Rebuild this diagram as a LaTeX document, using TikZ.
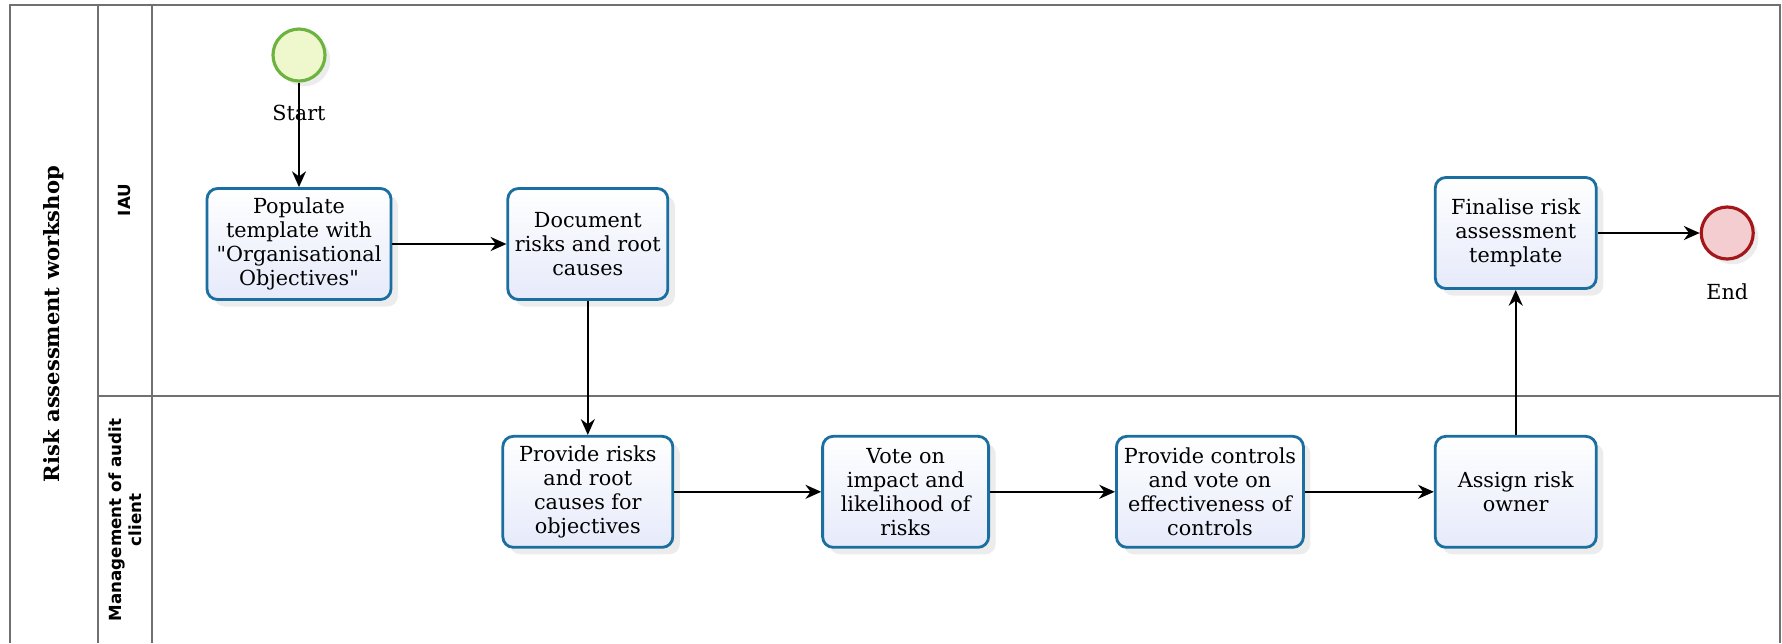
\documentclass[tikz,border=0pt]{standalone}
\usepackage{fontspec}
\setmainfont{DejaVu Serif}
\setsansfont{DejaVu Sans}
\usetikzlibrary{positioning,arrows.meta,shadows}
\definecolor{laneline}{HTML}{707070}
\definecolor{taskedge}{HTML}{1B6FA0}
\definecolor{taskfill}{HTML}{E6EAFA}
\definecolor{startedge}{HTML}{6DB33F}
\definecolor{startfill}{HTML}{EEF8CC}
\definecolor{endedge}{HTML}{A4161A}
\definecolor{endfill}{HTML}{F3CDCF}

\begin{document}
\begin{tikzpicture}[
    node distance=2.3cm and 2.3cm,
    lane/.style={draw=laneline, line width=0.9pt},
    task/.style={draw=taskedge, line width=1.6pt, rounded corners=6pt, top color=white, bottom color=taskfill, minimum height=2.22cm, align=center, font=\fontsize{11.8}{13.7}\selectfont, drop shadow={shadow xshift=4pt, shadow yshift=-4pt, opacity=0.15}},
    event/.style={circle, minimum size=1.04cm, inner sep=0pt, line width=1.8pt, drop shadow={shadow xshift=3pt, shadow yshift=-3pt, opacity=0.15}},
    evlabel/.style={inner sep=0pt, font=\fontsize{11.8}{13}\selectfont},
    flow/.style={-{Stealth[length=9pt, width=8pt]}, line width=0.9pt, black},
    lanetitle/.style={rotate=90, align=center, font=\sffamily\bfseries\fontsize{9.5}{11.5}\selectfont}
]
\useasboundingbox (0,0) rectangle (35.64,-12.86);

% pool and lanes
\draw[lane] (0.2,-12.86) -- (0.2,-0.1) -- (35.6,-0.1) -- (35.6,-12.86);
\draw[lane] (1.96,-0.1) -- (1.96,-12.86);
\draw[lane] (3.04,-0.1) -- (3.04,-12.86);
\draw[lane] (1.96,-7.92) -- (35.6,-7.92);

\node[rotate=90, font=\bfseries\fontsize{12}{14}\selectfont] (pool) at (1.07,-6.48) {Risk assessment workshop};
\node[lanetitle] (iau) at (2.5,-4.0) {IAU};
\node[lanetitle] (mgmt) at (2.5,-10.4) {Management of audit\\client};

% tasks
\node[task, minimum width=3.68cm] (populate) at (5.98,-4.88) {Populate\\template with\\\textquotedbl Organisational\\Objectives\textquotedbl};
\node[task, minimum width=3.2cm, right=2.28cm of populate] (document) {Document\\risks and root\\causes};
\node[task, minimum width=3.4cm, below=2.68cm of document] (provrisk) {Provide risks\\and root\\causes for\\objectives};
\node[task, minimum width=3.32cm, right=2.94cm of provrisk] (vote) {Vote on\\impact and\\likelihood of\\risks};
\node[task, minimum width=3.74cm, right=2.5cm of vote] (controls) {Provide controls\\and vote on\\effectiveness of\\controls};
\node[task, minimum width=3.22cm, right=2.58cm of controls] (assign) {Assign risk\\owner};
\node[task, minimum width=3.22cm, above=2.9cm of assign] (finalise) {Finalise risk\\assessment\\template};

% events
\node[event, draw=startedge, fill=startfill, above=2.09cm of populate] (start) {};
\node[evlabel, below=0.45cm of start] (startlbl) {Start};
\node[event, draw=endedge, fill=endfill, right=2.04cm of finalise] (finish) {};
\node[evlabel, below=0.45cm of finish] (finishlbl) {End};

% sequence flows
\draw[flow] (start) -- (populate);
\draw[flow] (populate) -- (document);
\draw[flow] (document) -- (provrisk);
\draw[flow] (provrisk) -- (vote);
\draw[flow] (vote) -- (controls);
\draw[flow] (controls) -- (assign);
\draw[flow] (assign) -- (finalise);
\draw[flow] (finalise) -- (finish);

\end{tikzpicture}
\end{document}
